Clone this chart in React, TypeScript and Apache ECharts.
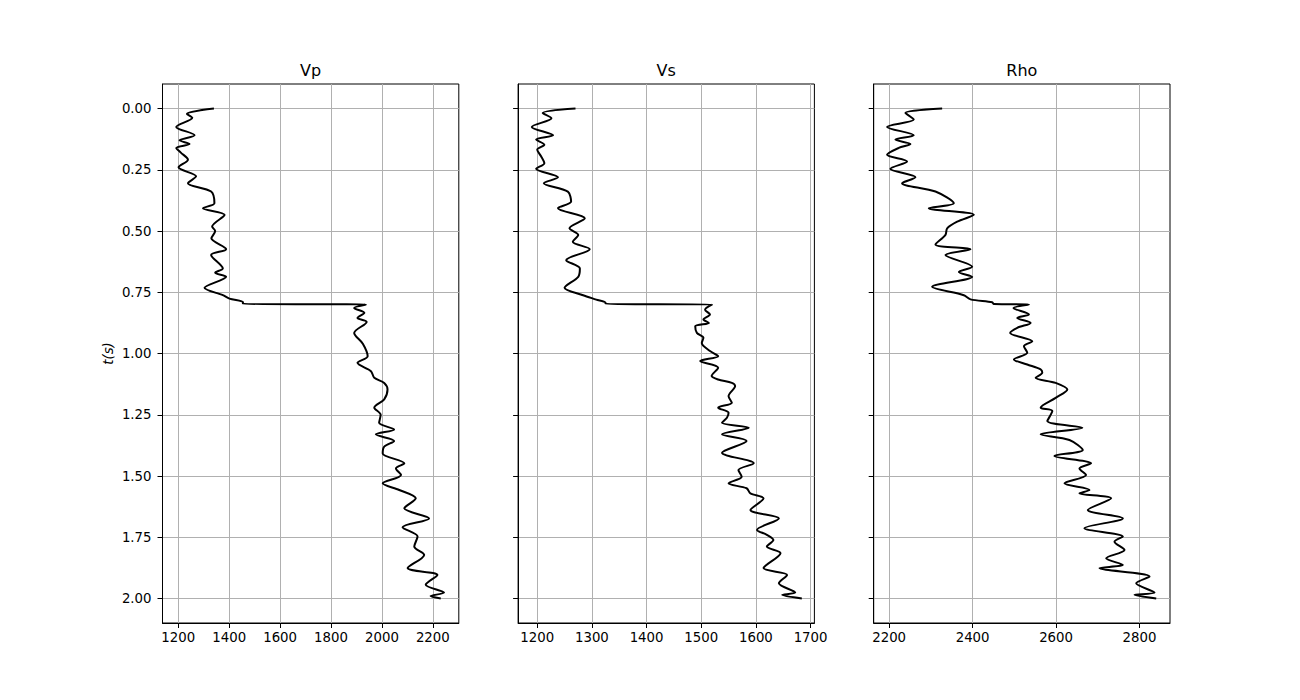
import React, { useEffect, useRef } from "react";
import * as echarts from "echarts";

const panelTitles = ["Vp", "Vs", "Rho"];
const timeTicks = [0, 0.25, 0.5, 0.75, 1.0, 1.25, 1.5, 1.75, 2.0];
const vpTicks = [1200, 1400, 1600, 1800, 2000, 2200];
const vsTicks = [1200, 1300, 1400, 1500, 1600, 1700];
const rhoTicks = [2200, 2400, 2600, 2800];

const vpDepth = [0, 0.022, 0.038, 0.075, 0.109, 0.130, 0.145, 0.161, 0.180, 0.209, 0.240, 0.277, 0.305, 0.339, 0.387, 0.407, 0.434, 0.482, 0.500, 0.530, 0.574, 0.598, 0.653, 0.670, 0.687, 0.732, 0.762, 0.776, 0.790, 0.798, 0.800, 0.814, 0.834, 0.855, 0.871, 0.916, 0.960, 1.011, 1.038, 1.072, 1.099, 1.120, 1.147, 1.187, 1.221, 1.250, 1.283, 1.310, 1.330, 1.357, 1.380, 1.408, 1.448, 1.469, 1.496, 1.530, 1.557, 1.591, 1.632, 1.673, 1.709, 1.747, 1.788, 1.822, 1.876, 1.904, 1.944, 1.976, 1.990, 2.000];
const vpValues = [1340, 1234, 1255, 1192, 1264, 1205, 1244, 1192, 1210, 1238, 1201, 1270, 1238, 1329, 1342, 1297, 1382, 1333, 1345, 1330, 1388, 1329, 1375, 1345, 1388, 1303, 1375, 1401, 1454, 1454, 1937, 1891, 1931, 1904, 1940, 1891, 1925, 1944, 1904, 1957, 1970, 2009, 2022, 2009, 1970, 1995, 1989, 2048, 1976, 2048, 2009, 2003, 2088, 2055, 2075, 2003, 2068, 2133, 2088, 2185, 2081, 2140, 2127, 2166, 2101, 2218, 2172, 2244, 2191, 2231];

const vsDepth = [0, 0.018, 0.040, 0.075, 0.109, 0.127, 0.148, 0.168, 0.195, 0.223, 0.246, 0.281, 0.305, 0.339, 0.380, 0.407, 0.448, 0.489, 0.516, 0.544, 0.574, 0.619, 0.653, 0.687, 0.732, 0.762, 0.780, 0.793, 0.798, 0.800, 0.821, 0.841, 0.861, 0.875, 0.889, 0.916, 0.936, 0.957, 0.990, 1.011, 1.031, 1.058, 1.092, 1.106, 1.120, 1.133, 1.174, 1.201, 1.221, 1.242, 1.262, 1.283, 1.303, 1.330, 1.357, 1.405, 1.448, 1.476, 1.503, 1.530, 1.550, 1.571, 1.591, 1.639, 1.673, 1.720, 1.740, 1.761, 1.788, 1.815, 1.876, 1.904, 1.938, 1.976, 1.985, 2.000];
const vsValues = [1270, 1210, 1226, 1190, 1229, 1198, 1213, 1200, 1207, 1213, 1198, 1238, 1212, 1256, 1262, 1238, 1287, 1259, 1275, 1265, 1296, 1253, 1278, 1275, 1250, 1284, 1308, 1325, 1325, 1520, 1507, 1516, 1504, 1514, 1489, 1492, 1504, 1501, 1516, 1531, 1498, 1531, 1519, 1531, 1556, 1562, 1550, 1556, 1531, 1550, 1547, 1538, 1587, 1538, 1583, 1538, 1596, 1568, 1574, 1550, 1583, 1590, 1614, 1590, 1642, 1602, 1620, 1632, 1620, 1645, 1614, 1657, 1642, 1672, 1648, 1684];

const rhoDepth = [0, 0.018, 0.045, 0.075, 0.109, 0.127, 0.145, 0.161, 0.189, 0.216, 0.246, 0.281, 0.305, 0.339, 0.387, 0.407, 0.434, 0.462, 0.489, 0.516, 0.555, 0.574, 0.598, 0.646, 0.667, 0.687, 0.728, 0.762, 0.779, 0.791, 0.798, 0.800, 0.814, 0.841, 0.855, 0.875, 0.895, 0.916, 0.950, 0.970, 0.997, 1.024, 1.045, 1.065, 1.079, 1.099, 1.120, 1.147, 1.181, 1.221, 1.235, 1.276, 1.303, 1.330, 1.353, 1.394, 1.418, 1.448, 1.469, 1.496, 1.530, 1.557, 1.571, 1.591, 1.639, 1.673, 1.713, 1.747, 1.768, 1.802, 1.836, 1.863, 1.876, 1.910, 1.938, 1.976, 1.985, 2.000];
const rhoValues = [2327, 2239, 2259, 2195, 2259, 2215, 2251, 2223, 2195, 2243, 2203, 2263, 2231, 2311, 2355, 2295, 2403, 2363, 2339, 2335, 2311, 2395, 2335, 2399, 2367, 2399, 2303, 2379, 2395, 2447, 2451, 2535, 2498, 2535, 2507, 2539, 2507, 2490, 2543, 2523, 2531, 2499, 2531, 2563, 2567, 2551, 2599, 2627, 2599, 2563, 2591, 2579, 2663, 2563, 2632, 2664, 2596, 2684, 2656, 2672, 2620, 2680, 2656, 2732, 2676, 2760, 2668, 2760, 2740, 2764, 2720, 2760, 2704, 2824, 2792, 2836, 2788, 2840];

const FONT = "DejaVu Sans";

export default function App() {
  const ref = useRef<HTMLDivElement>(null);
  useEffect(() => {
    if (!ref.current) return;
    const chart = echarts.init(ref.current, null, { renderer: "svg" });
    const lefts = [162.5, 518.1, 873.7];
    const w = 296.3;
    const top = 84;
    const h = 539;
    const xRanges = [
      [1138, 2302],
      [1165, 1707],
      [2163, 2873],
    ];
    const xTicks = [vpTicks, vsTicks, rhoTicks];
    const curves = [
      [vpDepth, vpValues],
      [vsDepth, vsValues],
      [rhoDepth, rhoValues],
    ];
    const gridLine = { show: true, lineStyle: { color: "#b0b0b0", width: 1 } };
    const tick = { show: true, inside: false, length: 5, lineStyle: { color: "#000", width: 1 } };
    const option: any = {
      animation: false,
      title: panelTitles.map((t, i) => ({
        text: t,
        left: lefts[i] + w / 2,
        top: 62,
        textAlign: "center",
        padding: 0,
        textStyle: { fontFamily: FONT, fontSize: 16, fontWeight: "normal", color: "#000" },
      })),
      grid: lefts.map((l) => ({
        left: l,
        top,
        width: w,
        height: h,
        show: true,
        borderColor: "#000",
        borderWidth: 1,
        containLabel: false,
      })),
      xAxis: lefts.map((_, i) => ({
        type: "value",
        gridIndex: i,
        min: xRanges[i][0],
        max: xRanges[i][1],
        axisLine: { show: true, onZero: false, lineStyle: { color: "#000", width: 1 } },
        axisTick: { ...tick, customValues: xTicks[i] },
        axisLabel: {
          customValues: xTicks[i],
          margin: 8,
          color: "#000",
          fontFamily: FONT,
          fontSize: 13.3,
          formatter: (v: number) => String(v),
        },
        splitLine: gridLine,
      })),
      yAxis: lefts.map((_, i) => ({
        type: "value",
        gridIndex: i,
        inverse: true,
        min: -0.1,
        max: 2.1,
        name: i === 0 ? "t(s)" : "",
        nameLocation: "middle",
        nameGap: 48,
        nameTextStyle: { fontFamily: FONT, fontSize: 13.3, fontStyle: "italic", color: "#000" },
        axisLine: { show: true, onZero: false, lineStyle: { color: "#000", width: 1 } },
        axisTick: { ...tick, customValues: timeTicks },
        axisLabel: {
          show: i === 0,
          customValues: timeTicks,
          margin: 11,
          color: "#000",
          fontFamily: FONT,
          fontSize: 13.3,
          formatter: (v: number) => v.toFixed(2),
        },
        splitLine: gridLine,
      })),
      series: curves.map(([d, v], i) => ({
        type: "line",
        xAxisIndex: i,
        yAxisIndex: i,
        data: v.map((x, k) => [x, d[k]]),
        symbol: "none",
        smooth: 0.3,
        lineStyle: { color: "#000", width: 2 },
      })),
    };
    chart.setOption(option);
    return () => chart.dispose();
  }, []);
  return (
    <div
      ref={ref}
      style={{ position: "fixed", left: 0, top: 0, width: 1300, height: 700, background: "#fff" }}
    />
  );
}
